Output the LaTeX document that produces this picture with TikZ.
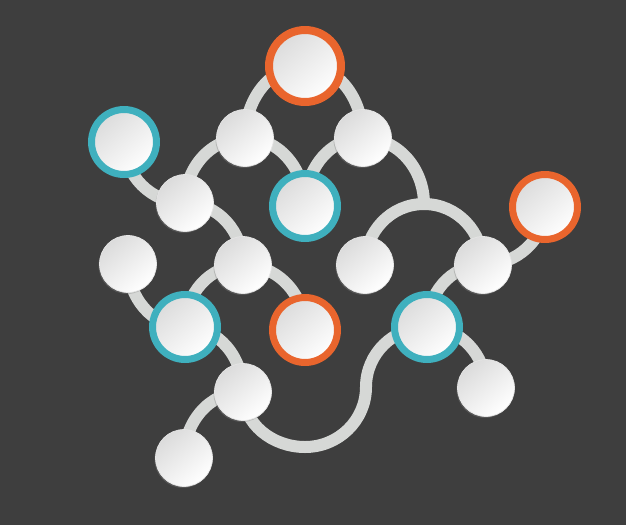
\documentclass[tikz,border=0pt]{standalone}
\usepackage{tikz}
\usepackage{xcolor}
\usetikzlibrary{positioning, shadows, backgrounds}

\definecolor{bgdark}{HTML}{3E3E3E}
\definecolor{bandgray}{HTML}{D6D8D6}
\definecolor{ringteal}{HTML}{3FB0BE}
\definecolor{ringorange}{HTML}{E9652D}

\tikzset{
    blob/.style={circle, inner sep=0pt, minimum size=1.14cm, draw=black!10, line width=0.4pt,
        shading=axis, top color=black!14, middle color=white, bottom color=white, shading angle=40,
        drop shadow={shadow xshift=-0.02cm, shadow yshift=-0.03cm, opacity=0.35}},
    tealring/.style={blob, minimum size=1.3cm, draw=ringteal, line width=0.14cm,
        drop shadow={shadow xshift=0.03cm, shadow yshift=-0.03cm, opacity=0.4}},
    orangering/.style={tealring, draw=ringorange},
    bigring/.style={orangering, minimum size=1.44cm, line width=0.16cm},
    band/.style={draw=bandgray, line width=0.24cm}
}

\begin{document}
\begin{tikzpicture}[x=0.02cm, y=-0.02cm]
            \useasboundingbox (0, 0) rectangle (626, 525);

            \node[bigring] (1) at (305, 66) {};
            \node[tealring] (2) at (124, 142) {};
            \node[blob] (3) at (245, 138) {};
            \node[blob] (4) at (363, 138) {};
            \node[blob] (5) at (185, 203) {};
            \node[tealring] (6) at (305, 206) {};
            \node[orangering] (7) at (545, 207) {};
            \node[blob] (8) at (128, 264) {};
            \node[blob] (9) at (243, 265) {};
            \node[blob] (10) at (365, 265) {};
            \node[blob] (11) at (483, 265) {};
            \node[tealring] (12) at (185, 327) {};
            \node[orangering] (13) at (305, 330) {};
            \node[tealring] (14) at (427, 327) {};
            \node[blob] (15) at (243, 392) {};
            \node[blob] (16) at (486, 388) {};
            \node[blob] (17) at (184, 458) {};

            \coordinate (j) at (424, 204);
            \coordinate (b) at (305, 447);
            \coordinate (c) at (366, 387);

            \begin{scope}[on background layer]
                \fill[bgdark] (0, 0) rectangle (626, 525);
                \draw[band] (3.center) to[out=90, in=180] (1.center) to[out=0, in=90] (4.center);
                \draw[band] (5.center) to[out=90, in=180] (3.center) to[out=0, in=90] (6.center);
                \draw[band] (6.center) to[out=90, in=180] (4.center) to[out=0, in=90] (j);
                \draw[band] (10.center) to[out=90, in=180] (j) to[out=0, in=90] (11.center);
                \draw[band] (2.center) to[out=-90, in=180] (5.center) to[out=0, in=90] (9.center);
                \draw[band] (12.center) to[out=90, in=180] (9.center) to[out=0, in=90] (13.center);
                \draw[band] (8.center) to[out=-90, in=180] (12.center) to[out=0, in=90] (15.center);
                \draw[band] (17.center) to[out=90, in=180] (15.center);
                \draw[band] (15.center) to[out=-90, in=180] (b) to[out=0, in=-90] (c) to[out=90, in=180] (14.center);
                \draw[band] (14.center) to[out=90, in=180] (11.center) to[out=0, in=-90] (7.center);
                \draw[band] (14.center) to[out=0, in=90] (16.center);
            \end{scope}
\end{tikzpicture}
\end{document}
